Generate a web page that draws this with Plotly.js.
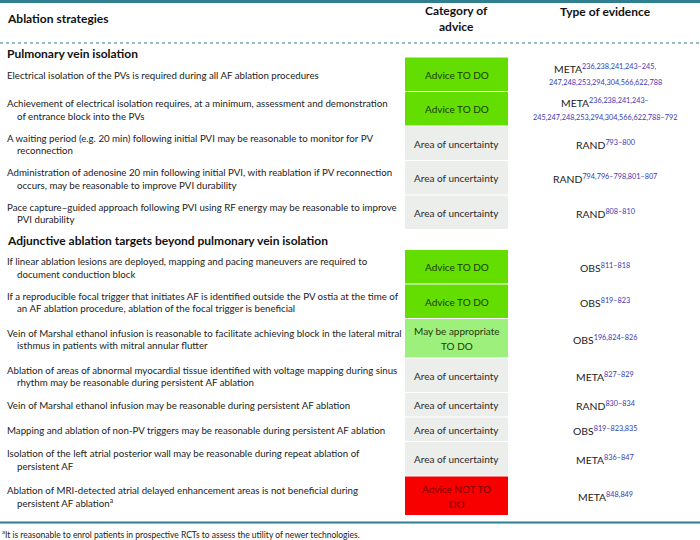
<!DOCTYPE html>
<html><head><meta charset="utf-8">
<script src="https://cdn.plot.ly/plotly-3.0.1.min.js"></script>
<style>body{margin:0;background:#fff}#chart{width:700px;height:540px}</style>
</head><body><div id="chart"></div>
<script>
// ---------- DATA ----------
const headers = ["Ablation strategies", "Category of<br>advice", "Type of evidence"];
const sections = ["Pulmonary vein isolation", "Adjunctive ablation targets beyond pulmonary vein isolation"];
const rowSection = [0,0,0,0,0,1,1,1,1,1,1,1,1];
const strategies = [
 ["Electrical isolation of the PVs is required during all AF ablation procedures"],
 ["Achievement of electrical isolation requires, at a minimum, assessment and demonstration", "of entrance block into the PVs"],
 ["A waiting period (e.g. 20 min) following initial PVI may be reasonable to monitor for PV", "reconnection"],
 ["Administration of adenosine 20 min following initial PVI, with reablation if PV reconnection", "occurs, may be reasonable to improve PVI durability"],
 ["Pace capture–guided approach following PVI using RF energy may be reasonable to improve", "PVI durability"],
 ["If linear ablation lesions are deployed, mapping and pacing maneuvers are required to", "document conduction block"],
 ["If a reproducible focal trigger that initiates AF is identified outside the PV ostia at the time of", "an AF ablation procedure, ablation of the focal trigger is beneficial"],
 ["Vein of Marshal ethanol infusion is reasonable to facilitate achieving block in the lateral mitral", "isthmus in patients with mitral annular flutter"],
 ["Ablation of areas of abnormal myocardial tissue identified with voltage mapping during sinus", "rhythm may be reasonable during persistent AF ablation"],
 ["Vein of Marshal ethanol infusion may be reasonable during persistent AF ablation"],
 ["Mapping and ablation of non-PV triggers may be reasonable during persistent AF ablation"],
 ["Isolation of the left atrial posterior wall may be reasonable during repeat ablation of", "persistent AF"],
 ["Ablation of MRI-detected atrial delayed enhancement areas is not beneficial during", "persistent AF ablation<sup>a</sup>"]
];
const categories = [
 ["Advice TO DO"], ["Advice TO DO"], ["Area of uncertainty"], ["Area of uncertainty"], ["Area of uncertainty"],
 ["Advice TO DO"], ["Advice TO DO"], ["May be appropriate", "TO DO"], ["Area of uncertainty"],
 ["Area of uncertainty"], ["Area of uncertainty"], ["Area of uncertainty"], ["Advice NOT TO", "DO"]
];
const evidenceType = ["META","META","RAND","RAND","RAND","OBS","OBS","OBS","META","RAND","OBS","META","META"];
const references = [
 ["236,238,241,243–245,", "247,248,253,294,304,566,622,788"],
 ["236,238,241,243–", "245,247,248,253,294,304,566,622,788–792"],
 ["793–800"], ["794,796–798,801–807"], ["808–810"], ["811–818"], ["819–823"],
 ["196,824–826"], ["827–829"], ["830–834"], ["819–823,835"], ["836–847"], ["848,849"]
];
const footnote = "<sup>a</sup>It is reasonable to enrol patients in prospective RCTs to assess the utility of newer technologies.";

// ---------- STYLE ----------
const FONT = "Lato, 'Open Sans', sans-serif";
const TEAL = "#2f7f8e";
const REF = "#3a3ab5";
const catStyle = {
  "Advice TO DO": {fill: "#63de00", color: "#1d3a08"},
  "May be appropriate": {fill: "#9ef07c", color: "#1d3a08"},
  "Area of uncertainty": {fill: "#eceeeb", color: "#2a2a2a"},
  "Advice NOT TO": {fill: "#f80000", color: "#7a0000"}
};
const X_LEFT = 5, X_INDENT = 15, BOX_X0 = 405, BOX_X1 = 508, X_CAT = 456.5, X_EVID = 605;
const LINE = 12.5, PAD = 9.5, CAT_LINE = 15;
const BOLD = {family: FONT, size: 12, color: '#111', weight: 'bold'};

const shapes = [];
const ann = [];
function A(x, y, text, opt) {
  ann.push(Object.assign({x: x, y: y, xref: 'x', yref: 'y', text: text, showarrow: false,
    xanchor: 'left', yanchor: 'middle', font: {family: FONT, size: 9.7, color: '#222'}}, opt || {}));
}
// top rule
shapes.push({type: 'line', xref: 'x', yref: 'y', x0: 0, x1: 700, y0: 1.5, y1: 1.5, line: {color: TEAL, width: 3}});
// headers
A(X_LEFT, 18, headers[0], {font: BOLD});
A(X_CAT, 18, headers[1], {xanchor: 'center', font: BOLD});
A(X_EVID, 11, headers[2], {xanchor: 'center', font: BOLD});
// dotted rule
shapes.push({type: 'line', xref: 'x', yref: 'y', x0: 0, x1: 700, y0: 43, y1: 43, line: {color: TEAL, width: 1.2, dash: 'dot'}});

let y = 43;
const headGap = [14, 20];
const headPos = [10, 11];
let lastSec = -1;
strategies.forEach(function (lines, i) {
  const s = rowSection[i];
  if (s !== lastSec) {
    A(X_LEFT, y + headPos[s], sections[s], {font: BOLD});
    y += headGap[s];
    lastSec = s;
  }
  const cat = categories[i];
  const refs = references[i];
  const h = Math.max(PAD + LINE * lines.length, PAD + LINE * refs.length, PAD + CAT_LINE * cat.length);
  const top = y, bot = y + h, mid = y + h / 2;
  const st = catStyle[cat[0]];
  shapes.push({type: 'rect', xref: 'x', yref: 'y', x0: BOX_X0, x1: BOX_X1, y0: top + 0.5, y1: bot - 0.5,
    fillcolor: st.fill, line: {width: 0}, layer: 'below'});
  lines.forEach(function (t, k) {
    A(k === 0 ? X_LEFT : X_INDENT, mid + (k - (lines.length - 1) / 2) * LINE + 0.5, t);
  });
  cat.forEach(function (t, k) {
    A(X_CAT, mid + (k - (cat.length - 1) / 2) * CAT_LINE + 0.5, t,
      {xanchor: 'center', font: {family: FONT, size: 10, color: st.color}});
  });
  const main = evidenceType[i] + "<sup><span style='color:" + REF + "'>" + refs[0] + "</span></sup>";
  if (refs.length === 1) {
    A(X_EVID, mid + 1, main, {xanchor: 'center', font: {family: FONT, size: 10.4, color: '#222'}});
  } else {
    A(X_EVID, mid - 6, main, {xanchor: 'center', font: {family: FONT, size: 10.4, color: '#222'}});
    A(X_EVID, mid + 8.5, refs[1], {xanchor: 'center', font: {family: FONT, size: 7.3, color: REF}});
  }
  y = bot;
});
// bottom rule and footnote
shapes.push({type: 'line', xref: 'x', yref: 'y', x0: 0, x1: 700, y0: y + 7, y1: y + 7, line: {color: TEAL, width: 2}});
A(0, y + 18, footnote, {font: {family: FONT, size: 8.5, color: '#222'}});

const layout = {
  width: 700, height: 540, margin: {l: 0, r: 0, t: 0, b: 0},
  paper_bgcolor: '#fff', plot_bgcolor: '#fff', showlegend: false,
  xaxis: {range: [0, 700], visible: false, fixedrange: true},
  yaxis: {range: [540, 0], visible: false, fixedrange: true},
  shapes: shapes, annotations: ann
};
Plotly.newPlot('chart', [{type: 'scatter', x: [], y: [], hoverinfo: 'skip'}], layout, {staticPlot: true, displayModeBar: false});
</script>
</body></html>
